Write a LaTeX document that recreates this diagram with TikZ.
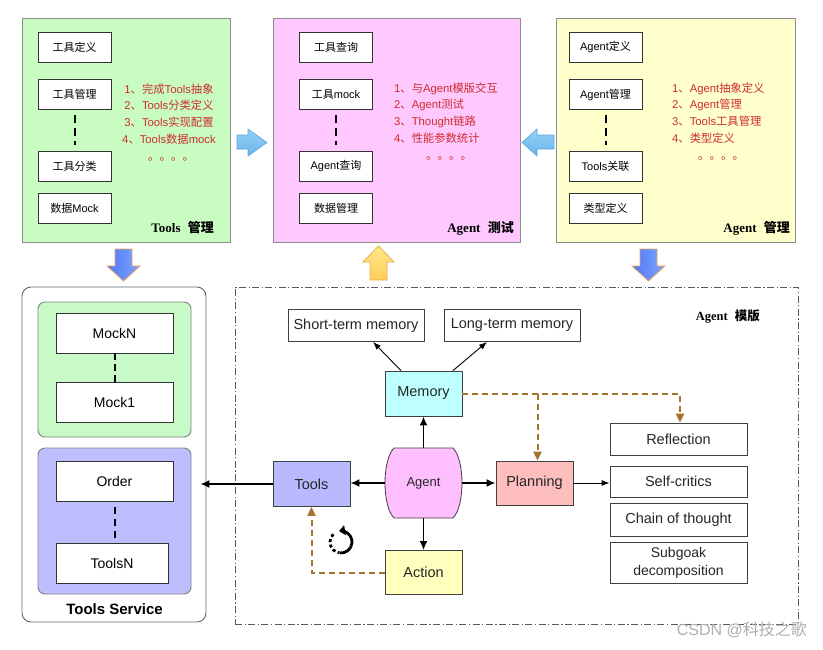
\documentclass[tikz,border=0pt]{standalone}
\usepackage{fontspec}
\setmainfont{Liberation Sans}
\newfontfamily\cjk{Noto Sans CJK SC}
\newfontfamily\serifb{Liberation Serif}
\usetikzlibrary{arrows.meta}
\newcommand\zh[1]{{\cjk #1}}
\definecolor{pgreen}{RGB}{200,252,192}
\definecolor{ppink}{RGB}{255,200,255}
\definecolor{pyellow}{RGB}{255,255,204}
\definecolor{listred}{RGB}{205,45,45}
\definecolor{sgreen}{RGB}{200,250,200}
\definecolor{spurple}{RGB}{190,190,255}
\definecolor{memcyan}{RGB}{190,255,255}
\definecolor{toolpurple}{RGB}{185,185,255}
\definecolor{planred}{RGB}{255,190,190}
\definecolor{actyellow}{RGB}{255,255,190}
\definecolor{agentpink}{RGB}{255,190,255}
\definecolor{dbrown}{RGB}{165,115,45}
\definecolor{lblue1}{RGB}{150,210,245}
\definecolor{lblue2}{RGB}{105,180,235}
\definecolor{lblueline}{RGB}{90,165,225}
\definecolor{dblue1}{RGB}{80,120,245}
\definecolor{dblue2}{RGB}{125,165,255}
\definecolor{orangeline}{RGB}{240,165,90}
\definecolor{ayellow1}{RGB}{255,232,140}
\definecolor{ayellow2}{RGB}{255,205,90}
\definecolor{ayline}{RGB}{230,175,70}
\definecolor{wmgray}{RGB}{175,175,175}
\tikzset{
  panel/.style={draw=black!45, line width=0.9pt, inner sep=0pt},
  ibox/.style={draw=black!80, fill=white, line width=0.8pt, minimum width=73pt,
    minimum height=30pt, inner sep=0pt, font=\fontsize{11}{13}\selectfont},
  vdash/.style={line width=2pt, dash pattern=on 8pt off 5pt},
  redlist/.style={text=listred, inner sep=0pt, font=\fontsize{11.3}{16.8}\selectfont},
  reddots/.style={text=listred, inner sep=0pt, font=\cjk\fontsize{11.5}{13}\selectfont},
  ptitle/.style={anchor=east, inner sep=0pt, font=\fontsize{13}{15}\selectfont},
  sbox/.style={draw=black!80, fill=white, line width=0.8pt, minimum width=117pt,
    minimum height=40pt, inner sep=0pt, font=\fontsize{14}{16}\selectfont},
  abox/.style={draw=black!75, line width=0.8pt, inner sep=0pt,
    font=\fontsize{14.5}{17}\selectfont, text=black!85},
  thk/.style={line width=1.8pt, -{Latex[length=9pt,width=8pt]}},
  thn/.style={line width=0.9pt, -{Latex[length=8pt,width=6pt]}},
  brdash/.style={draw=dbrown, line width=2pt, dash pattern=on 6pt off 4pt,
    -{Triangle[length=9pt,width=8pt,fill=dbrown]}},
}
\begin{document}
\begin{tikzpicture}[x=1pt,y=-1pt]
\useasboundingbox (0,0) rectangle (823,649);
\fill[white] (0,0) rectangle (823,649);

% ---------- top panels ----------
\node[panel, fill=pgreen, minimum width=208pt, minimum height=224pt] (p1) at (126,130) {};
\node[panel, fill=ppink, minimum width=247pt, minimum height=224pt] (p2) at (396.5,130) {};
\node[panel, fill=pyellow, minimum width=239pt, minimum height=224pt] (p3) at (675.5,130) {};

% panel 1
\node[ibox] (a1) at (74.5,47) {\zh{工具定义}};
\node[ibox] (a2) at (74.5,94.5) {\zh{工具管理}};
\node[ibox] (a3) at (74.5,166.5) {\zh{工具分类}};
\node[ibox] (a4) at (74.5,208) {\zh{数据}Mock};
\draw[vdash] ([yshift=-5pt]a2.south) -- ([yshift=6pt]a3.north);
\node[redlist, align=center] (l1) at (169,114) {1\zh{、完成}Tools\zh{抽象}\\2\zh{、}Tools\zh{分类定义}\\3\zh{、}Tools\zh{实现配置}\\4\zh{、}Tools\zh{数据}mock};
\node[reddots] (d1) at (171,159) {。。。。};
\node[ptitle] (t1) at (214,228) {{\serifb\bfseries Tools}\ \ {\cjk\bfseries 管理}};

% panel 2
\node[ibox] (b1) at (336,47) {\zh{工具查询}};
\node[ibox] (b2) at (336,94.5) {\zh{工具}mock};
\node[ibox] (b3) at (336,166.5) {Agent\zh{查询}};
\node[ibox] (b4) at (336,208) {\zh{数据管理}};
\draw[vdash] ([yshift=-5pt]b2.south) -- ([yshift=6pt]b3.north);
\node[redlist, align=left, anchor=west] (l2) at (394,113) {1\zh{、与}Agent\zh{模版交互}\\2\zh{、}Agent\zh{测试}\\3\zh{、}Thought\zh{链路}\\4\zh{、性能参数统计}};
\node[reddots] (d2) at (449,158) {。。。。};
\node[ptitle] (t2) at (514,228) {{\serifb\bfseries Agent}\ \ {\cjk\bfseries 测试}};

% panel 3
\node[ibox] (c1) at (605.5,47) {Agent\zh{定义}};
\node[ibox] (c2) at (605.5,94.5) {Agent\zh{管理}};
\node[ibox] (c3) at (605.5,166.5) {Tools\zh{关联}};
\node[ibox] (c4) at (605.5,208) {\zh{类型定义}};
\draw[vdash] ([yshift=-5pt]c2.south) -- ([yshift=6pt]c3.north);
\node[redlist, align=left, anchor=west] (l3) at (672,113) {1\zh{、}Agent\zh{抽象定义}\\2\zh{、}Agent\zh{管理}\\3\zh{、}Tools\zh{工具管理}\\4\zh{、类型定义}};
\node[reddots] (d3) at (721,158) {。。。。};
\node[ptitle] (t3) at (790,228) {{\serifb\bfseries Agent}\ \ {\cjk\bfseries 管理}};

% block arrows between panels
\draw[draw=lblueline, line width=0.6pt, top color=lblue1, bottom color=lblue2]
  (237,135) -- (248,135) -- (248,129) -- (267,142.5) -- (248,156) -- (248,149) -- (237,149) -- cycle;
\draw[draw=lblueline, line width=0.6pt, top color=lblue1, bottom color=lblue2]
  (554,135) -- (537,135) -- (537,129) -- (522,142.5) -- (537,156) -- (537,149) -- (554,149) -- cycle;
% down arrows
\draw[draw=orangeline, line width=0.8pt, left color=dblue1, right color=dblue2]
  (115,249) -- (132,249) -- (132,266) -- (140,266) -- (123.5,281) -- (107,266) -- (115,266) -- cycle;
\draw[draw=orangeline, line width=0.8pt, left color=dblue1, right color=dblue2]
  (640,249) -- (657,249) -- (657,266) -- (665,266) -- (648.5,281) -- (632,266) -- (640,266) -- cycle;
% up arrow
\draw[draw=ayline, line width=0.8pt, top color=ayellow1, bottom color=ayellow2]
  (370,280) -- (387,280) -- (387,262) -- (394,262) -- (378.5,246) -- (363,262) -- (370,262) -- cycle;

% ---------- Tools Service ----------
\node[draw=black!60, line width=0.9pt, fill=white, rounded corners=9pt,
      minimum width=184pt, minimum height=335pt, inner sep=0pt] (svc) at (114,454.5) {};
\node[draw=black!50, line width=0.9pt, fill=sgreen, rounded corners=7pt,
      minimum width=153pt, minimum height=135pt, inner sep=0pt] (gm) at (114.5,369.5) {};
\node[draw=black!50, line width=0.9pt, fill=spurple, rounded corners=7pt,
      minimum width=153pt, minimum height=146pt, inner sep=0pt] (gt) at (114.5,521) {};
\node[sbox] (m1) at (114.5,333) {MockN};
\node[sbox] (m2) at (114.5,402) {Mock1};
\node[sbox] (o1) at (114.5,481) {Order};
\node[sbox, minimum width=112pt] (o2) at (112,563) {ToolsN};
\draw[line width=2pt, dash pattern=on 7pt off 4pt] (m1.south) -- (m2.north);
\draw[line width=2pt, dash pattern=on 7pt off 5pt] (114.5,507) -- (114.5,543);
\node[inner sep=0pt, font=\bfseries\fontsize{15}{17}\selectfont] (svct) at (114.5,609) {Tools Service};

% ---------- Agent template ----------
\node[draw=black!65, line width=0.9pt, dash pattern=on 7pt off 2.5pt on 1.2pt off 2.5pt,
      minimum width=563pt, minimum height=337pt, inner sep=0pt] (tpl) at (516.5,455.5) {};
\node[anchor=east, inner sep=0pt, font=\fontsize{12.5}{14}\selectfont] (tplt) at (760,317)
  {{\serifb\bfseries Agent}\ \ {\cjk\bfseries 模版}};

\node[abox, fill=white, minimum width=136pt, minimum height=32pt] (stm) at (356,325.5) {Short-term memory};
\node[abox, fill=white, minimum width=136pt, minimum height=32pt] (ltm) at (512,325.5) {Long-term memory};
\node[abox, fill=memcyan, minimum width=77pt, minimum height=45pt] (mem) at (423.5,393.5) {Memory};

% Agent shape
\draw[draw=black!75, line width=0.8pt, fill=agentpink]
  (394,448) -- (453,448) .. controls (465,460) and (465,506) .. (453,518)
  -- (394,518) .. controls (382,506) and (382,460) .. (394,448) -- cycle;
\node[inner sep=0pt, minimum width=77pt, minimum height=70pt, font=\fontsize{13}{15}\selectfont, text=black!85] (agent) at (423.5,483) {Agent};

\node[abox, fill=toolpurple, minimum width=77pt, minimum height=45pt] (tools) at (311.5,484) {Tools};
\node[abox, fill=planred, minimum width=77pt, minimum height=44pt] (plan) at (534.5,483) {Planning};
\node[abox, fill=actyellow, minimum width=77pt, minimum height=44pt] (act) at (423.5,572.5) {Action};

\node[abox, fill=white, minimum width=137pt, minimum height=32pt] (refl) at (678.5,439) {Reflection};
\node[abox, fill=white, minimum width=137pt, minimum height=31pt] (selfc) at (678.5,481.5) {Self-critics};
\node[abox, fill=white, minimum width=137pt, minimum height=33pt] (chain) at (678.5,519.5) {Chain of thought};
\node[abox, fill=white, minimum width=137pt, minimum height=41pt, align=center,
      font=\fontsize{14}{18}\selectfont] (subg) at (678.5,562.5) {Subgoak\\decomposition};

% connectors
\draw[thk] (agent.north) -- (mem.south);
\draw[thk] (agent.west) -- (agent.west -| tools.east);
\draw[thk] (agent.east) -- (plan.west);
\draw[thk] (agent.south) -- (act.north);
\draw[thn] ([xshift=-22.5pt]mem.north) -- ([xshift=17pt]stm.south);
\draw[thn] ([xshift=29.5pt]mem.north) -- ([xshift=-25pt]ltm.south);
\draw[thn] (plan.east) -- (plan.east -| selfc.west);
\draw[line width=1.5pt, -{Latex[length=9pt,width=8pt]}, shorten >=-6pt] (tools.west) -- (tools.west -| svc.east);
\draw[brdash] (mem.east) -| ([xshift=1.5pt]refl.north);
\coordinate (pj) at ([xshift=3pt]mem.east -| plan.north);
\draw[brdash] (pj) -- (pj |- plan.north);
\draw[brdash] (act.west) -| (tools.south);

% rotation icon
\draw[line width=2.8pt, -{Triangle[length=6pt,width=10pt]}] (341,542) ++(-95:11pt) arc[start angle=-95, end angle=100, radius=11pt];
\draw[line width=2.8pt, dash pattern=on 3pt off 2.6pt] (341,542) ++(135:11pt) arc[start angle=135, end angle=262, radius=11pt];

% watermark
\node[anchor=east, inner sep=0pt, text=wmgray, font=\fontsize{16}{18}\selectfont] (wm) at (807,630) {CSDN @{\cjk 科技之歌}};
\end{tikzpicture}
\end{document}
